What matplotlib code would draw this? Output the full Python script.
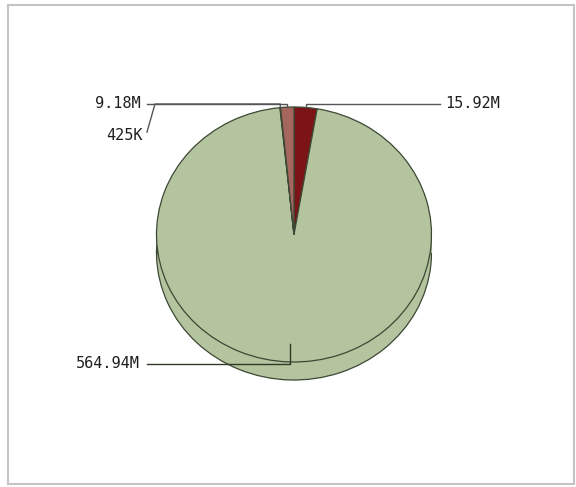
import numpy as np
import matplotlib
matplotlib.use("Agg")
import matplotlib.pyplot as plt
from matplotlib.patches import Rectangle

# ---- slice data (clockwise from 12 o'clock) ----
labels = ["15.92M", "564.94M", "425K", "9.18M"]
values = [15.92, 564.94, 0.425, 9.18]
colors = ["#7c1417", "#b4c49f", "#5b2a22", "#a5665e"]

edge = "#3c4834"
W, H = 576, 487
cx, cy = 294, 234.5      # pie centre in pixels
rx, ry = 137.5, 127.5    # radii of the top face
depth = 18               # thickness of the disc in pixels

fig = plt.figure(figsize=(W / 100, H / 100), dpi=100)

# panel frame
frame = fig.add_axes([0, 0, 1, 1])
frame.set_xlim(0, W)
frame.set_ylim(H, 0)
frame.axis("off")
frame.add_patch(Rectangle((8, 4.5), 566, 479, fill=False, ec="#c4c4c4", lw=1.5))

# pie axes sized so the unit circle comes out as the tilted ellipse
d = depth / ry
pie_ax = fig.add_axes([(cx - rx) / W, (H - (cy + ry + depth)) / H,
                       2 * rx / W, (2 * ry + depth) / H])

# base of the disc, shifted down
base, _ = pie_ax.pie(values, colors=colors, startangle=90, counterclock=False,
                     center=(0, -d), radius=1,
                     wedgeprops=dict(edgecolor=edge, linewidth=0.9))
for w in base:
    w.set_zorder(1)
pie_ax.add_patch(Rectangle((-1, -d), 2, d, fc=colors[1], ec="none", zorder=1.5))
pie_ax.plot([-1, -1], [-d, 0], color=edge, lw=0.9, zorder=1.6)
pie_ax.plot([1, 1], [-d, 0], color=edge, lw=0.9, zorder=1.6)

# top face
top, _ = pie_ax.pie(values, colors=colors, startangle=90, counterclock=False,
                    radius=1, wedgeprops=dict(edgecolor=edge, linewidth=0.9))
for w in top:
    w.set_zorder(2)

pie_ax.set_aspect("auto")
pie_ax.set_xlim(-1, 1)
pie_ax.set_ylim(-1 - d, 1)
pie_ax.axis("off")

# overlay in pixel units for labels and leader lines, drawn above the pie
bg = fig.add_axes([0, 0, 1, 1])
bg.set_xlim(0, W)
bg.set_ylim(H, 0)
bg.axis("off")
bg.patch.set_alpha(0)
bg.set_zorder(5)


def rim_point(wedge, r=1.0):
    # point on the top face at the wedge's mid angle, in overlay pixels
    a = np.deg2rad((wedge.theta1 + wedge.theta2) / 2)
    disp = pie_ax.transData.transform((r * np.cos(a), r * np.sin(a)))
    return bg.transData.inverted().transform(disp)


font = dict(family="DejaVu Sans Mono", fontsize=11, color="#1e1e1e")
lc = dict(color="#555555", lw=1.0)

# 15.92M, leader to the right
x0, y0 = rim_point(top[0])
bg.plot([x0, x0, 440], [y0, 104, 104], **lc)
bg.text(445, 104, labels[0], ha="left", va="center", **font)

# 9.18M, leader to the left
x3, y3 = rim_point(top[3])
bg.plot([x3, x3, 147], [y3, 104, 104], **lc)
bg.text(141, 104, labels[3], ha="right", va="center", **font)

# 425K joins the 9.18M leader
x2, y2 = rim_point(top[2])
bg.plot([x2, x2, 155, 147], [y2, 104, 104, 132], **lc)
bg.text(143, 135, labels[2], ha="right", va="center", **font)

# 564.94M, leader from inside the face down and left
xa, ya = rim_point(top[1], 0.86)
bg.plot([xa, xa, 147], [ya, 364, 364], color="#2e3a28", lw=1.0)
bg.text(140, 364, labels[1], ha="right", va="center", **font)

fig.savefig("out.png", dpi=100)
